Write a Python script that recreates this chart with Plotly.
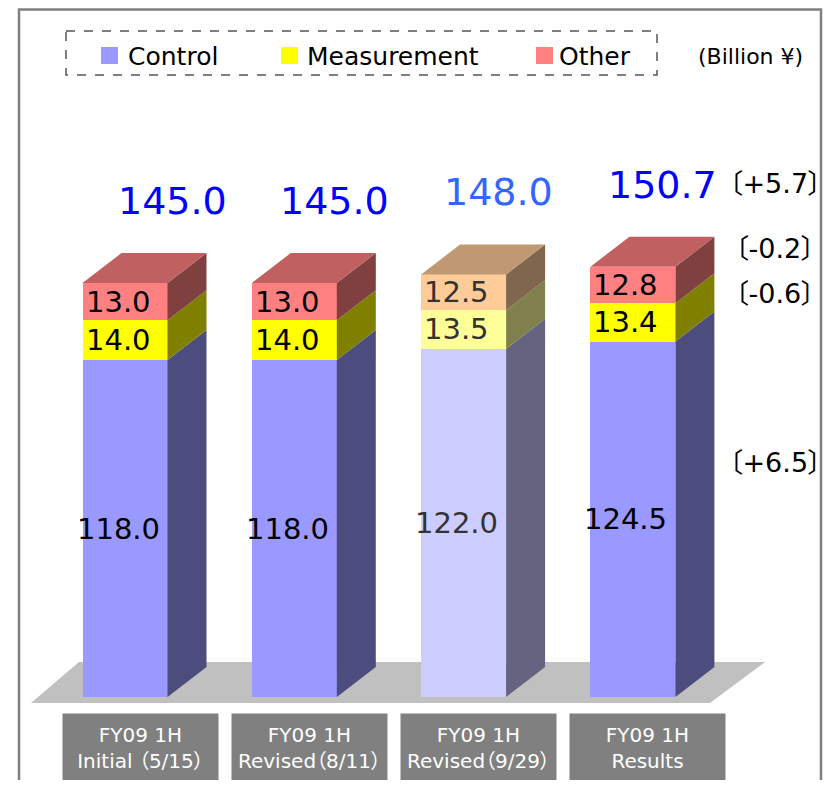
import plotly.graph_objects as go

# ---------------- data ----------------
categories = ["FY09 1H<br>Initial （5/15）", "FY09 1H<br>Revised（8/11）",
              "FY09 1H<br>Revised（9/29）", "FY09 1H<br>Results"]
control = [118.0, 118.0, 122.0, 124.5]
measurement = [14.0, 14.0, 13.5, 13.4]
other = [13.0, 13.0, 12.5, 12.8]
totals = [145.0, 145.0, 148.0, 150.7]
series_names = ["Control", "Measurement", "Other"]
unit_label = "(Billion ¥)"
is_forecast_light = [False, False, True, False]

# ---------------- styles ----------------
OFF = 8                      # page body margin
W, H = 831 - 2 * OFF, 788 - 2 * OFF
FONT = "DejaVu Sans, Noto Sans CJK JP"
PALT = "<span style=\"font-feature-settings:'palt'\">{}</span>"
front_col = {"Control": "#9999ff", "Measurement": "#ffff00", "Other": "#ff8080"}
front_col_l = {"Control": "#ccccff", "Measurement": "#ffff99", "Other": "#ffcc99"}
side_col = {"Control": "#4c4c7e", "Measurement": "#808000", "Other": "#804040"}
side_col_l = {"Control": "#646480", "Measurement": "#80804c", "Other": "#80664c"}
top_col, top_col_l = "#c06060", "#c09973"
total_xshift = [47, 40, 35, 30]

PX_PER_UNIT = 2.855
BASE_PY = 697
X0_PX = 125
STEP_PX = 169.3


def xd(px):
    return (px - X0_PX) / STEP_PX


def yd(py):
    return (BASE_PY - py) / PX_PER_UNIT


def xp(px):
    return (px - OFF) / W


def yp(py):
    return 1 - (py - OFF) / H


bar_w = 85 / STEP_PX
ddx = 39 / STEP_PX
ddy = 30 / PX_PER_UNIT

xs = list(range(len(categories)))
fig = go.Figure()

segs = {"Control": control, "Measurement": measurement, "Other": other}
for name in series_names:
    vals = segs[name]
    cols = [front_col_l[name] if l else front_col[name] for l in is_forecast_light]
    fig.add_trace(go.Bar(x=xs, y=vals, width=bar_w, name=name,
                         marker=dict(color=cols, line=dict(width=0)),
                         hoverinfo="skip", showlegend=False))

# side and top faces
for i in xs:
    xl = i - bar_w / 2
    xr = i + bar_w / 2
    bottom = 0.0
    for name in series_names:
        v = segs[name][i]
        top = bottom + v
        c = side_col_l[name] if is_forecast_light[i] else side_col[name]
        fig.add_trace(go.Scatter(
            x=[xr, xr + ddx, xr + ddx, xr, xr],
            y=[bottom, bottom + ddy, top + ddy, top, bottom],
            fill="toself", fillcolor=c, mode="lines", line=dict(width=0),
            hoverinfo="skip", showlegend=False))
        bottom = top
    tc = top_col_l if is_forecast_light[i] else top_col
    fig.add_trace(go.Scatter(
        x=[xl, xr, xr + ddx, xl + ddx, xl],
        y=[bottom, bottom, bottom + ddy, bottom + ddy, bottom],
        fill="toself", fillcolor=tc, mode="lines", line=dict(width=0),
        hoverinfo="skip", showlegend=False))

shapes = []
# floor
floor_pts = [(31, 703), (710, 703), (765, 662), (79, 662)]
path = "M " + " L ".join(f"{xd(a):.4f},{yd(b):.4f}" for a, b in floor_pts) + " Z"
shapes.append(dict(type="path", path=path, xref="x", yref="y", layer="below",
                   fillcolor="#c0c0c0", line=dict(width=0)))
# frame (left, top, right lines)
frame_path = (f"M {xp(19):.5f},{yp(830):.5f} L {xp(19):.5f},{yp(9.5):.5f} "
              f"L {xp(821):.5f},{yp(9.5):.5f} L {xp(821):.5f},{yp(830):.5f}")
shapes.append(dict(type="path", xref="paper", yref="paper", path=frame_path,
                   line=dict(color="#808080", width=2.5)))
# legend box
shapes.append(dict(type="rect", xref="paper", yref="paper",
                   x0=xp(66), x1=xp(657), y0=yp(31), y1=yp(75),
                   line=dict(color="#555555", width=1.5, dash="dash"),
                   fillcolor="rgba(0,0,0,0)"))

annotations = []
leg_sq = [(101, 126), (281, 305), (536, 557)]
for (sx, tx), name in zip(leg_sq, series_names):
    shapes.append(dict(type="rect", xref="paper", yref="paper",
                       x0=xp(sx), x1=xp(sx + 17), y0=yp(47), y1=yp(64),
                       fillcolor=front_col[name], line=dict(width=0)))
    annotations.append(dict(text=name, xref="paper", yref="paper", x=xp(tx), y=yp(56),
                            xanchor="left", yanchor="middle", showarrow=False,
                            font=dict(family=FONT, size=25, color="black")))

annotations.append(dict(text=unit_label, xref="paper", yref="paper", x=xp(750), y=yp(56),
                        xanchor="center", yanchor="middle", showarrow=False,
                        font=dict(family=FONT, size=22, color="black")))

# segment labels
for i in xs:
    bottom = 0.0
    col = "#333333" if is_forecast_light[i] else "black"
    for name in series_names:
        v = segs[name][i]
        annotations.append(dict(text=f"{v:.1f}", x=i, y=bottom + v / 2, xref="x", yref="y",
                                xshift=-7, showarrow=False, xanchor="center", yanchor="middle",
                                font=dict(family=FONT, size=29, color=col)))
        bottom += v
    tcol = "#3366ff" if is_forecast_light[i] else "#0000ff"
    annotations.append(dict(text=f"{totals[i]:.1f}", x=i, y=totals[i] + ddy, xref="x", yref="y",
                            xshift=total_xshift[i], yshift=52, showarrow=False, xanchor="center",
                            yanchor="middle",
                            font=dict(family=FONT, size=38, color=tcol)))
    annotations.append(dict(text=PALT.format(categories[i].replace("<br>", "</span><br><span style=\"font-feature-settings:'palt'\">")),
                            x=i, xref="x", yref="paper", y=yp(747.5),
                            xshift=15, showarrow=False, xanchor="center", yanchor="middle",
                            width=155, height=67, bgcolor="#808080", borderpad=0,
                            font=dict(family=FONT, size=20, color="white")))

# change labels (Results vs Initial)
d_total = totals[-1] - totals[0]
d_other = other[-1] - other[0]
d_meas = measurement[-1] - measurement[0]
d_ctrl = control[-1] - control[0]
for d, py in [(d_total, 183), (d_other, 248), (d_meas, 293), (d_ctrl, 462)]:
    annotations.append(dict(text=PALT.format(f"〔{d:+.1f}〕"), xref="paper", yref="paper",
                            x=xp(775), y=yp(py),
                            xanchor="center", yanchor="middle", showarrow=False,
                            font=dict(family=FONT, size=27, color="black")))

fig.update_layout(
    width=W, height=H, margin=dict(l=0, r=0, t=0, b=0),
    paper_bgcolor="white", plot_bgcolor="white",
    barmode="stack", bargap=0, showlegend=False,
    xaxis=dict(range=[xd(OFF), xd(OFF + W)], visible=False, fixedrange=True),
    yaxis=dict(range=[yd(OFF + H), yd(OFF)], visible=False, fixedrange=True),
    shapes=shapes, annotations=annotations,
)

fig.write_html("out.html", config={"displayModeBar": False})
